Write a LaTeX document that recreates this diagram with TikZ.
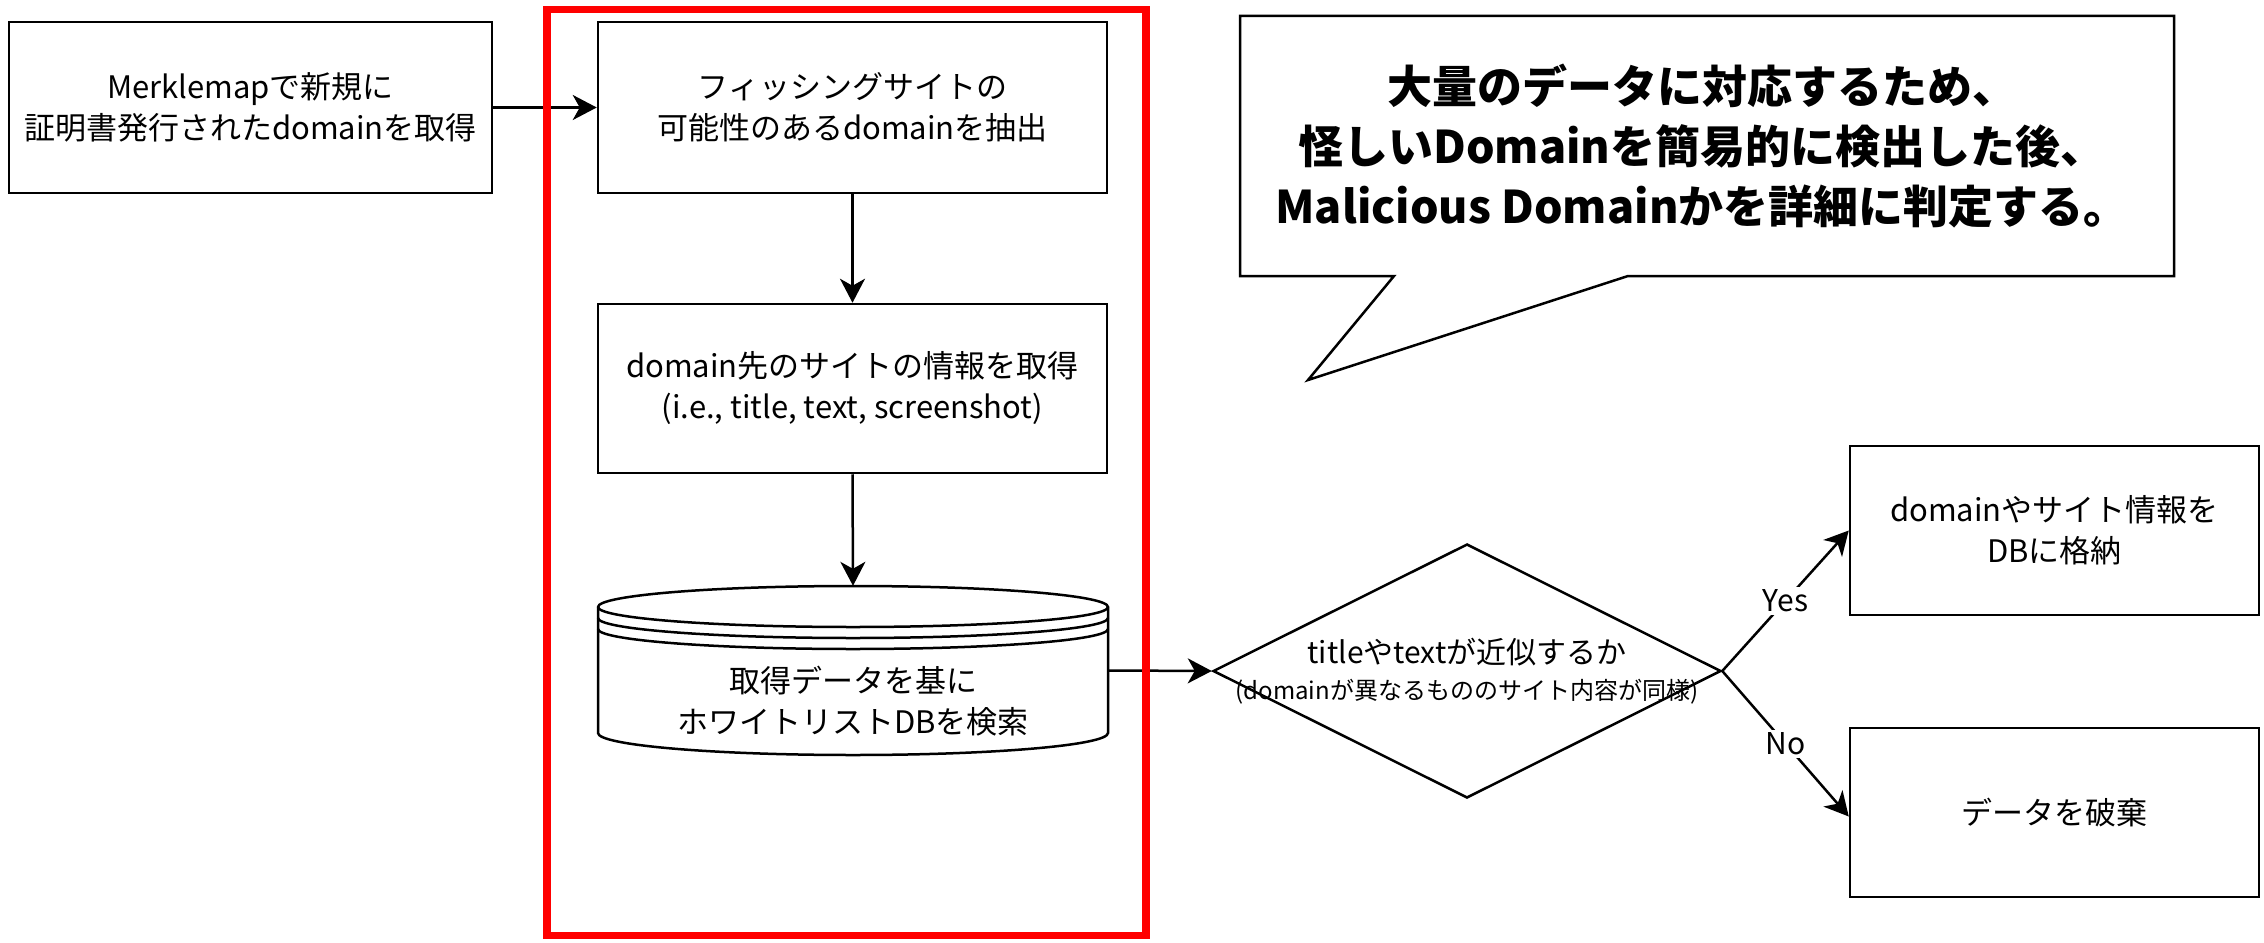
\documentclass[tikz,border=0pt]{standalone}
\usepackage{fontspec}
\setmainfont{Noto Sans CJK JP}
\usetikzlibrary{shapes.geometric,arrows.meta}
\begin{document}
\begin{tikzpicture}[x=1pt,y=-1pt,
  lw/.style={line width=2.5pt},
  boxn/.style={draw, lw, inner sep=0pt, align=center, font=\fontsize{31}{41}\selectfont},
  txt/.style={inner sep=0pt, align=center, font=\fontsize{31}{41}\selectfont},
  arr/.style={lw, -{Stealth[length=24pt, width=25pt, inset=7pt]}},
  lbl/.style={fill=white, inner sep=3pt, font=\fontsize{30}{36}\selectfont}]
\useasboundingbox (0,0) rectangle (2264,942);
% boxes
\node[boxn, minimum width=483pt, minimum height=171pt] (b1) at (250.5,107.5)
  {Merklemapで新規に\\証明書発行されたdomainを取得};
\node[boxn, minimum width=509pt, minimum height=171pt] (b2) at (852.5,107.5)
  {フィッシングサイトの\\可能性のあるdomainを抽出};
\node[boxn, minimum width=509pt, minimum height=169pt] (b3) at (852.5,388.5)
  {domain先のサイトの情報を取得\\(i.e., title, text, screenshot)};
% cylinder
\draw[lw, fill=white] (598,607) -- (598,733) arc[start angle=180, end angle=0, x radius=255, y radius=22]
  -- (1108,607) arc[start angle=0, end angle=-180, x radius=255, y radius=21] -- cycle;
\draw[lw] (598,607) arc[start angle=180, end angle=0, x radius=255, y radius=20];
\draw[lw] (598,618) arc[start angle=180, end angle=0, x radius=255, y radius=20];
\draw[lw] (598,629) arc[start angle=180, end angle=0, x radius=255, y radius=20];
\node[inner sep=0pt, minimum width=510pt, minimum height=169pt] (cyl) at (853,670.5) {};
\node[txt] (cyltxt) at (853,701) {取得データを基に\\ホワイトリストDBを検索};
% diamond
\node[diamond, draw, lw, minimum width=508pt, minimum height=254pt, inner sep=0pt] (d) at (1467,671) {};
\node[txt, font=\fontsize{30}{36}\selectfont] (dt1) at (1467,652) {titleやtextが近似するか};
\node[txt, font=\fontsize{24}{30}\selectfont] (dt2) at (1467,692) {(domainが異なるもののサイト内容が同様)};
% result boxes
\node[boxn, minimum width=409pt, minimum height=169pt] (yes) at (2054.5,530.5)
  {domainやサイト情報を\\DBに格納};
\node[boxn, minimum width=409pt, minimum height=169pt] (no) at (2054.5,812.5)
  {データを破棄};
% connectors
\draw[arr] (b1.east) -- (b2.west);
\draw[arr] (b2.south) -- (b3.north);
\draw[arr] (b3.south) -- (cyl.north);
\draw[arr] (cyl.east) -- (d.west);
\draw[arr] (d.east) -- node[lbl] {Yes} (yes.west);
\draw[arr] (d.east) -- node[lbl] {No} ([yshift=-4pt]no.west);
% red frame
\draw[red, line width=7.5pt] (547,9.5) rectangle (1146,935.5);
% callout
\draw[lw, fill=white] (1240,16) -- (2174,16) -- (2174,276) -- (1628,276) -- (1308,380) -- (1394,276) -- (1240,276) -- cycle;
\node[inner sep=0pt, align=center, font=\bfseries\fontsize{45}{60}\selectfont] (call) at (1702,146)
  {大量のデータに対応するため、\\怪しいDomainを簡易的に検出した後、\\Malicious Domainかを詳細に判定する。};
\end{tikzpicture}
\end{document}
